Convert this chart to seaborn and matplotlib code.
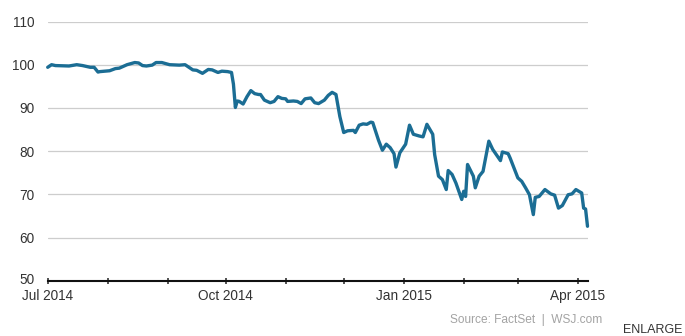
import matplotlib
matplotlib.use("Agg")
import matplotlib.pyplot as plt
import matplotlib.dates as mdates
import matplotlib.transforms as mtransforms
import pandas as pd
import seaborn as sns

# Index level, Jul 2014 - Apr 2015
dates = [
    "2014-07-01", "2014-07-03", "2014-07-05", "2014-07-12", "2014-07-16", "2014-07-19",
    "2014-07-23", "2014-07-25", "2014-07-27", "2014-07-28", "2014-08-02", "2014-08-05",
    "2014-08-07", "2014-08-11", "2014-08-15", "2014-08-17", "2014-08-19", "2014-08-21",
    "2014-08-24", "2014-08-26", "2014-08-29", "2014-09-02", "2014-09-07", "2014-09-10",
    "2014-09-11", "2014-09-14", "2014-09-16", "2014-09-19", "2014-09-22", "2014-09-24",
    "2014-09-27", "2014-09-29", "2014-10-02", "2014-10-04", "2014-10-05", "2014-10-06",
    "2014-10-07", "2014-10-08", "2014-10-10", "2014-10-12", "2014-10-14", "2014-10-16",
    "2014-10-18", "2014-10-19", "2014-10-21", "2014-10-24", "2014-10-26", "2014-10-28",
    "2014-10-30", "2014-11-01", "2014-11-02", "2014-11-05", "2014-11-07", "2014-11-09",
    "2014-11-11", "2014-11-14", "2014-11-16", "2014-11-18", "2014-11-21", "2014-11-23",
    "2014-11-25", "2014-11-27", "2014-11-29", "2014-12-01", "2014-12-03", "2014-12-06",
    "2014-12-07", "2014-12-09", "2014-12-11", "2014-12-13", "2014-12-15", "2014-12-16",
    "2014-12-19", "2014-12-21", "2014-12-23", "2014-12-25", "2014-12-27", "2014-12-28",
    "2014-12-30", "2015-01-02", "2015-01-04", "2015-01-06", "2015-01-09", "2015-01-11",
    "2015-01-13", "2015-01-16", "2015-01-17", "2015-01-19", "2015-01-21", "2015-01-23",
    "2015-01-24", "2015-01-26", "2015-01-28", "2015-01-31", "2015-02-01", "2015-02-02",
    "2015-02-03", "2015-02-06", "2015-02-07", "2015-02-09", "2015-02-11", "2015-02-14",
    "2015-02-16", "2015-02-20", "2015-02-21", "2015-02-24", "2015-02-25", "2015-02-27",
    "2015-03-01", "2015-03-03", "2015-03-05", "2015-03-07", "2015-03-09", "2015-03-10",
    "2015-03-12", "2015-03-15", "2015-03-18", "2015-03-20", "2015-03-22", "2015-03-24",
    "2015-03-27", "2015-03-29", "2015-03-31", "2015-04-03", "2015-04-04", "2015-04-05",
    "2015-04-06",
]
values = [
    99.4, 100.0, 99.8, 99.7, 100.0, 99.8,
    99.4, 99.4, 98.3, 98.4, 98.6, 99.1,
    99.2, 100.0, 100.5, 100.4, 99.8, 99.7,
    99.9, 100.5, 100.5, 100.0, 99.9, 100.0,
    99.7, 98.8, 98.7, 98.0, 98.9, 98.8,
    98.2, 98.5, 98.4, 98.2, 95.5, 90.1,
    91.6, 91.5, 90.9, 92.6, 94.0, 93.3,
    93.1, 93.1, 91.8, 91.2, 91.5, 92.6,
    92.2, 92.1, 91.5, 91.6, 91.5, 91.0,
    92.1, 92.3, 91.2, 91.0, 91.8, 92.9,
    93.6, 93.1, 88.0, 84.3, 84.7, 84.8,
    84.3, 86.0, 86.3, 86.2, 86.7, 86.6,
    82.5, 80.2, 81.6, 80.8, 79.4, 76.3,
    79.6, 81.6, 86.0, 83.9, 83.5, 83.3,
    86.2, 83.9, 79.2, 74.2, 73.4, 71.1,
    75.5, 74.6, 72.6, 68.8, 70.7, 69.5,
    76.9, 74.2, 71.5, 74.2, 75.3, 82.3,
    80.4, 77.8, 79.8, 79.4, 78.4, 76.1,
    73.8, 73.0, 71.5, 69.9, 65.3, 69.3,
    69.5, 71.1, 70.1, 69.8, 66.8, 67.4,
    69.9, 70.1, 71.1, 70.3, 66.8, 66.6,
    62.6,
]
y_ticks = [50, 60, 70, 80, 90, 100, 110]
x_range = ["2014-07-01", "2015-04-06"]
source_note = "Source: FactSet  |  WSJ.com"
link_text = "ENLARGE"

df = pd.DataFrame({"date": pd.to_datetime(dates), "value": values})

sns.set_style("white")
plt.rcParams["font.family"] = ["Liberation Sans", "DejaVu Sans"]

fig = plt.figure(figsize=(6.85, 3.36), dpi=100)
ax = fig.add_axes([47.7 / 685, 1 - 280.7 / 336, (587.5 - 47.7) / 685, (280.7 - 21.5) / 336])

sns.lineplot(data=df, x="date", y="value", ax=ax, color="#1b6d94",
             linewidth=2.4, clip_on=False, zorder=3)

ax.set_ylim(y_ticks[0], y_ticks[-1])
ax.set_xlim(pd.to_datetime(x_range[0]), pd.to_datetime(x_range[1]))
ax.set_yticks(y_ticks)
for v in y_ticks[1:]:
    ax.axhline(v, color="#cdcdcd", linewidth=0.9, zorder=1)

ax.xaxis.set_major_locator(mdates.MonthLocator(bymonth=[1, 4, 7, 10]))
ax.xaxis.set_major_formatter(mdates.DateFormatter("%b %Y"))
ax.xaxis.set_minor_locator(mdates.MonthLocator())
ax.tick_params(axis="x", which="both", direction="inout", length=4.5, width=1.1,
               color="#222222", labelsize=9.8, labelcolor="#333333", pad=3.8,
               bottom=True)
ax.tick_params(axis="y", length=0, labelsize=9.8, labelcolor="#333333", pad=9.5)

# lift the bottom y label slightly so it clears the first date label
lowest = ax.get_yticklabels()[0]
lowest.set_transform(lowest.get_transform()
                     + mtransforms.ScaledTranslation(0, 1.5 / 72, fig.dpi_scale_trans))

for side in ("top", "right", "left"):
    ax.spines[side].set_visible(False)
ax.spines["bottom"].set_color("#111111")
ax.spines["bottom"].set_linewidth(1.5)
ax.spines["bottom"].set_zorder(4)

ax.set_xlabel("")
ax.set_ylabel("")

fig.text(602 / 685, 1 - 320 / 336, source_note, ha="right", va="center",
         fontsize=8.6, color="#a3a3a3")
fig.text(623 / 685, 1 - 330 / 336, link_text, ha="left", va="center",
         fontsize=9, color="#333333")

fig.savefig("out.png", dpi=100, facecolor="white")
